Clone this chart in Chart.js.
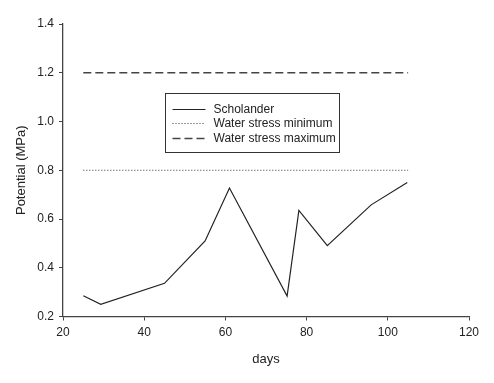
<!DOCTYPE html>
<html><head><meta charset="utf-8">
<script src="https://cdn.jsdelivr.net/npm/chart.js@4.4.0/dist/chart.umd.min.js"></script>
<style>html,body{margin:0;padding:0;background:#fff;}#wrap{width:494px;height:383px;}</style>
</head><body><div id="wrap"><canvas id="c" width="494" height="383"></canvas></div>
<script>
const days = [25, 29.3, 45, 55, 61, 75.2, 78.1, 85.1, 95.9, 104.8];
const scholander = [0.285, 0.25, 0.336, 0.51, 0.727, 0.284, 0.635, 0.491, 0.658, 0.75];
const stressDays = [25, 105];
const stressMin = [0.8, 0.8];
const stressMax = [1.2, 1.2];
const seriesLabels = ['Scholander', 'Water stress minimum', 'Water stress maximum'];
const xTicks = [20, 40, 60, 80, 100, 120];
const yTicks = [0.2, 0.4, 0.6, 0.8, 1.0, 1.2, 1.4];

const toXY = (xs, ys) => xs.map((x, i) => ({x: x, y: ys[i]}));

const legendBox = {
  id: 'legendBox',
  afterDraw(chart) {
    const ctx = chart.ctx, a = chart.chartArea;
    const x0 = Math.round(a.left + 102) + 0.5, y0 = Math.round(a.top + 68.5) + 0.5, w = 174, h = 59;
    ctx.save();
    ctx.fillStyle = '#fff';
    ctx.fillRect(x0, y0, w, h);
    ctx.strokeStyle = '#333';
    ctx.lineWidth = 1;
    ctx.strokeRect(x0, y0, w, h);
    ctx.font = '12px "Liberation Sans", Arial, sans-serif';
    ctx.textBaseline = 'middle';
    ctx.fillStyle = '#222';
    chart.data.datasets.forEach((ds, i) => {
      const yy = Math.round(y0 + 15 + i * 14.5) + 0.5;
      ctx.beginPath();
      ctx.setLineDash(ds.borderDash || []);
      ctx.strokeStyle = ds.borderColor;
      ctx.lineWidth = ds.borderWidth;
      ctx.moveTo(x0 + 7, yy);
      ctx.lineTo(x0 + 40, yy);
      ctx.stroke();
      ctx.setLineDash([]);
      ctx.fillText(ds.label, x0 + 48, yy);
    });
    ctx.restore();
  }
};

new Chart(document.getElementById('c'), {
  type: 'line',
  data: {
    datasets: [
      {label: seriesLabels[0], data: toXY(days, scholander), borderColor: '#222', borderWidth: 1.2, pointRadius: 0, fill: false, tension: 0},
      {label: seriesLabels[1], data: toXY(stressDays, stressMin), borderColor: '#333', borderWidth: 1, borderDash: [1, 2], pointRadius: 0, fill: false},
      {label: seriesLabels[2], data: toXY(stressDays, stressMax), borderColor: '#444', borderWidth: 1.3, borderDash: [8, 4], pointRadius: 0, fill: false}
    ]
  },
  options: {
    responsive: false,
    animation: false,
    layout: {padding: {left: 0, right: 25, top: 24, bottom: 0}},
    plugins: {legend: {display: false}, tooltip: {enabled: false}},
    scales: {
      x: {
        type: 'linear', min: 20, max: 120,
        afterBuildTicks: s => { s.ticks = xTicks.map(v => ({value: v})); },
        afterFit: s => { s.height = 66.5; },
        grid: {drawOnChartArea: false, drawTicks: true, tickLength: 4, color: '#444'},
        border: {display: true, color: '#444', width: 1.3},
        ticks: {color: '#222', font: {size: 12, family: '"Liberation Sans", Arial, sans-serif'}, padding: 5, maxRotation: 0},
        title: {display: true, text: 'days', color: '#222', font: {size: 13, family: '"Liberation Sans", Arial, sans-serif'}, padding: {top: 0, bottom: 16}}
      },
      y: {
        type: 'linear', min: 0.2, max: 1.4,
        afterBuildTicks: s => { s.ticks = yTicks.map(v => ({value: v})); },
        afterFit: s => { s.width = 63; },
        grid: {drawOnChartArea: false, drawTicks: true, tickLength: 4, color: '#444'},
        border: {display: true, color: '#444', width: 1.3},
        ticks: {color: '#222', font: {size: 12, family: '"Liberation Sans", Arial, sans-serif'}, padding: 5, callback: v => Number(v).toFixed(1)},
        title: {display: true, text: 'Potential (MPa)', color: '#222', font: {size: 13, family: '"Liberation Sans", Arial, sans-serif'}, padding: {top: 14, bottom: 0}}
      }
    }
  },
  plugins: [legendBox]
});
</script>
</body></html>
